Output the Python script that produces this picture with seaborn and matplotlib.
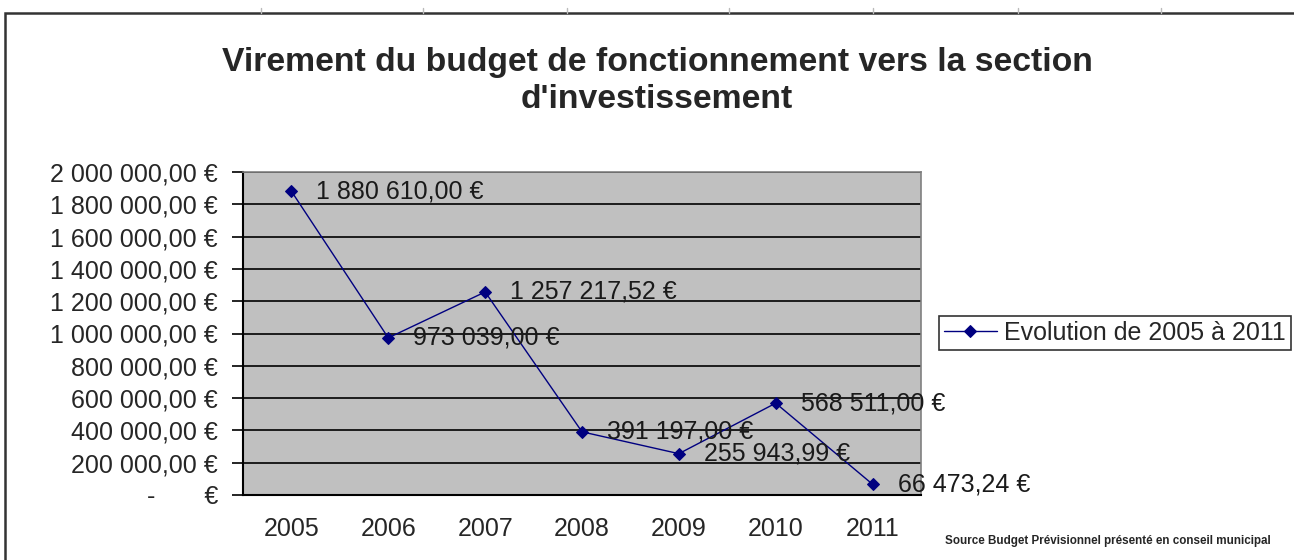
import numpy as np
import pandas as pd
import matplotlib
matplotlib.use("Agg")
import matplotlib.pyplot as plt
import seaborn as sns
from matplotlib.lines import Line2D
from matplotlib.patches import Rectangle

# Data
years = ["2005", "2006", "2007", "2008", "2009", "2010", "2011"]
values = [1880610.00, 973039.00, 1257217.52, 391197.00, 255943.99, 568511.00, 66473.24]
series_name = "Evolution de 2005 à 2011"

sns.set_style("white")
plt.rcParams["font.family"] = ["Liberation Sans", "DejaVu Sans"]


def euro(v):
    if v == 0:
        return "-       €"
    s = f"{v:,.2f}".replace(",", " ").replace(".", ",")
    return s + " €"


df = pd.DataFrame({"pos": np.arange(len(years)), "value": values})

fig = plt.figure(figsize=(12.94, 5.6), dpi=100)
ax = fig.add_axes([243 / 1294, 1 - 495 / 560, 678 / 1294, 323 / 560])
ax.set_facecolor("#C0C0C0")

sns.lineplot(data=df, x="pos", y="value", ax=ax, color="#000080", lw=1,
             marker="D", markersize=6, markeredgecolor="#000080", label=series_name, zorder=3)

ax.set_xlim(-0.5, len(years) - 0.5)
ax.set_ylim(0, 2000000)
yt = np.arange(0, 2000001, 200000)
ax.set_yticks(yt)
ax.set_yticklabels([euro(v) for v in yt], fontsize=18)
ax.grid(axis="y", color="black", lw=1.2, zorder=1)
ax.set_axisbelow(True)

ax.set_xticks(df["pos"])
ax.set_xticklabels(years, fontsize=18)
ax.set_xticks(np.arange(-0.5, len(years)), minor=True)
ax.tick_params(axis="x", which="major", length=0, pad=16)
ax.tick_params(axis="x", which="minor", length=8, width=1.2, color="black", direction="out")
ax.tick_params(axis="y", length=8, width=1.2, color="black", direction="out", left=True, pad=10)
ax.set_xlabel("")
ax.set_ylabel("")

for sp in ["top", "right"]:
    ax.spines[sp].set_color("#808080")
    ax.spines[sp].set_linewidth(1.2)
for sp in ["left", "bottom"]:
    ax.spines[sp].set_color("black")
    ax.spines[sp].set_linewidth(1.5)

for x, v in zip(df["pos"], values):
    ax.annotate(euro(v), (x, v), xytext=(18, 0), textcoords="offset points",
                fontsize=18, va="center", ha="left", color="#1a1a1a", zorder=4,
                annotation_clip=False)

leg = ax.legend(loc="center left", bbox_to_anchor=(939 / 1294, 1 - 333 / 560),
                bbox_transform=fig.transFigure, fontsize=18, frameon=True,
                fancybox=False, edgecolor="black", handlelength=2.1,
                borderpad=0.2, handletextpad=0.3, borderaxespad=0)
leg.get_frame().set_linewidth(1.2)

fig.text(0.5 + (657 - 647) / 1294, 1 - 81 / 560,
         "Virement du budget de fonctionnement vers la section\nd'investissement",
         ha="center", va="center", fontsize=24.3, fontweight="bold", linespacing=1.27)

fig.text(945 / 1294, 1 - 541 / 560, "Source Budget Prévisionnel présenté en conseil municipal",
         ha="left", va="center", fontsize=8.4, fontweight="bold")

# outer chart frame and spreadsheet cell marks
fig.add_artist(Rectangle((5 / 1294, -0.05), 1.1, 1 - 13 / 560 + 0.05, transform=fig.transFigure,
                         fill=False, edgecolor="#333333", lw=1.8))
for xp in [261, 423, 567, 729, 873, 1018, 1161]:
    fig.add_artist(Line2D([xp / 1294, xp / 1294], [1 - 13 / 560, 1 - 8 / 560],
                          transform=fig.transFigure, color="#bbbbbb", lw=1))

fig.savefig("out.png", dpi=100)
